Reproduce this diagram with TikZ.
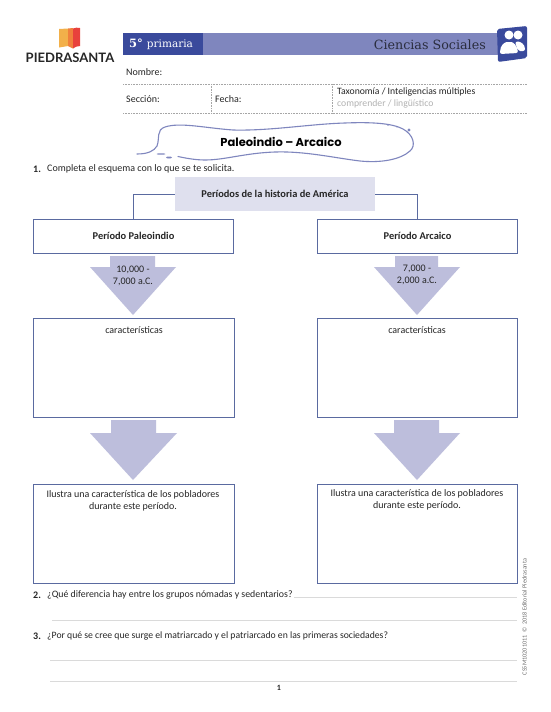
\documentclass[tikz,border=0pt]{standalone}
\usepackage{fontspec}
\setmainfont{Carlito}
\newfontfamily\slabfont{DejaVu Serif}
\newfontfamily\popfont{Poppins}
\newfontfamily\latofont{Lato}
\definecolor{navy}{HTML}{3A4A9C}
\definecolor{band}{HTML}{7F86BE}
\definecolor{boxline}{HTML}{5A6AA0}
\definecolor{headfill}{HTML}{DFE0EE}
\definecolor{arrowfill}{HTML}{BDBEDC}
\definecolor{ruleg}{HTML}{DADADA}
\definecolor{txt}{HTML}{262626}
\definecolor{bookA}{HTML}{F2B04A}
\definecolor{bookB}{HTML}{F0803C}
\definecolor{bookC}{HTML}{E8413C}
\tikzset{
  x=1pt,y=-1pt,
  txtn/.style={inner sep=0pt,text=txt,font=\fontsize{10}{12.5}\selectfont},
  lefttxt/.style={txtn,anchor=west},
  framebox/.style={draw=boxline,line width=1pt,fill=white,anchor=north west,inner sep=0pt,minimum height=#1},
  framebox/.default=34pt,
  boldlabel/.style={txtn,font=\fontsize{10.4}{12.5}\selectfont\bfseries},
  conn/.style={draw=boxline,line width=1pt},
  dots/.style={draw=gray!70,line width=0.6pt,densely dotted},
  rulel/.style={draw=ruleg,line width=0.9pt},
  arrowshape/.style={fill=arrowfill,draw=none},
  ribbon/.style={draw=band,line width=1.1pt,line cap=round}
}
\begin{document}
\begin{tikzpicture}
\useasboundingbox (0,0) rectangle (550,712);
\fill[white] (0,0) rectangle (550,712);

% logo
\fill[bookA] (59,29) -- (68,28.5) -- (68,46) -- (59,47.5) -- cycle;
\fill[bookB] (68,28.5) -- (73,28) -- (73,48.5) -- (68,46) -- cycle;
\fill[bookC] (73,28.5) .. controls (75,27.5) and (78,27.5) .. (80,28) -- (80,46) .. controls (77,46) and (75,47) .. (73,48.5) -- cycle;
\node[inner sep=0pt,text=txt] (logo) at (70,58) {\latofont\bfseries\fontsize{13}{14}\selectfont PIEDRASANTA};

% band
\fill[band] (203,33) rectangle (505,55);
\fill[navy] (123,33) rectangle (203,55);
\node[inner sep=0pt,anchor=west,text=white] (grade) at (129,44) {\slabfont\fontsize{11.5}{12}\selectfont\bfseries 5° \mdseries\fontsize{10.5}{12}\selectfont primaria};
\node[inner sep=0pt,anchor=east,text=txt!80!navy] (subject) at (486,44.5) {\slabfont\fontsize{12.7}{14}\selectfont Ciencias Sociales};

% icon
\fill[navy,rounded corners=2pt] (497,29) -- (527,26) -- (527,58) -- (498,62) -- cycle;
\fill[white] (509,35) circle (4.5);
\fill[white] (518,35) circle (4.5);
\fill[white,rounded corners=2pt] (500,54) .. controls (500,45) and (505,42) .. (509,42) .. controls (513,42) and (517,45) .. (518,53) -- cycle;
\fill[white,rounded corners=2pt] (515,42) .. controls (520,41) and (525,44) .. (525,51) -- (518,51) -- cycle;

% form
\node[lefttxt] (nombre) at (126,72) {Nombre:};
\draw[dots] (123,84) -- (527,84);
\draw[dots] (123,113) -- (527,113);
\draw[dots] (211,84) -- (211,113);
\draw[dots] (332,84) -- (332,113);
\node[lefttxt] (seccion) at (126,99.5) {Sección:};
\node[lefttxt] (fecha) at (215,99.5) {Fecha:};
\node[lefttxt,font=\fontsize{9.7}{12}\selectfont] (tax) at (337,92) {Taxonomía / Inteligencias múltiples};
\node[lefttxt,text=gray!60,font=\fontsize{9.7}{12}\selectfont] (comp) at (337,104) {comprender / lingüístico};

% title ribbon
\path[ribbon] (137,154) .. controls (148,154) and (154,151) .. (157,146)
  .. controls (160,138) and (156,130) .. (165,127)
  .. controls (180,122) and (205,128) .. (233,130)
  .. controls (270,131) and (310,124) .. (345,123)
  .. controls (370,122) and (392,123) .. (403,129)
  .. controls (414,135) and (416,146) .. (410,151)
  .. controls (400,160) and (380,163) .. (360,161)
  .. controls (335,158) and (305,151) .. (275,152)
  .. controls (245,153) and (225,160) .. (205,160)
  .. controls (195,160) and (185,158) .. (178,156.5);
\fill[band] (169,157.5) ellipse (3 and 1);
\fill[band] (161,154) ellipse (4.5 and .7);
\fill[band] (409,130) circle (1.6);
\fill[band] (388,125) circle (.8);
\fill[band] (397,127) circle (.6);
\node[inner sep=0pt,text=black] (title) at (281,142) {\popfont\fontsize{11.5}{13}\selectfont\bfseries Paleoindio – Arcaico};

% question 1
\node[lefttxt,font=\fontsize{10}{12}\selectfont\bfseries] (q1n) at (33,169) {1.};
\node[lefttxt] (q1) at (47,169) {Completa el esquema con lo que se te solicita.};

% scheme head
\node[fill=headfill,minimum width=200pt,minimum height=34pt,inner sep=0pt,boldlabel] (hdr) at (275,194) {Períodos de la historia de América};
\node[framebox,minimum width=200pt] (lp) at (33,218.5) {};
\node[boldlabel] at (lp.center) {Período Paleoindio};
\node[framebox,minimum width=200pt] (rp) at (317,218.5) {};
\node[boldlabel] at (rp.center) {Período Arcaico};
\draw[conn] (hdr.west) -| (lp.north);
\draw[conn] (hdr.east) -| (rp.north);

% small arrows
\fill[arrowshape] (110,256) -- (155,256) -- (155,267) -- (176,267) -- (133,315) -- (90,267) -- (110,267) -- cycle;
\fill[arrowshape] (395,256) -- (438,256) -- (438,267) -- (460,267) -- (417,315) -- (374,267) -- (395,267) -- cycle;
\node[txtn,align=center] (ld) at (133,276) {10,000 -\\7,000 a.C.};
\node[txtn,align=center] (rd) at (417,275) {7,000 -\\2,000 a.C.};

% characteristic boxes
\node[framebox=99pt,minimum width=201pt] (lc) at (33,318) {};
\node[framebox=99pt,minimum width=200pt] (rc) at (317,318) {};
\node[txtn] at (134,330) {características};
\node[txtn] at (417,330) {características};

% big arrows
\fill[arrowshape] (111,420) -- (156,420) -- (156,433) -- (177,433) -- (133,480) -- (90,433) -- (111,433) -- cycle;
\fill[arrowshape] (394,420) -- (439,420) -- (439,433) -- (460,433) -- (417,480) -- (374,433) -- (394,433) -- cycle;

% illustrate boxes
\node[framebox=99pt,minimum width=201pt] (li) at (33,484) {};
\node[framebox=99pt,minimum width=200pt] (ri) at (317,484) {};
\node[txtn,align=center] at (133,501) {Ilustra una característica de los pobladores\\durante este período.};
\node[txtn,align=center] at (417,500) {Ilustra una característica de los pobladores\\durante este período.};

% questions
\node[lefttxt,font=\fontsize{10}{12}\selectfont\bfseries] (q2n) at (33,595) {2.};
\node[lefttxt,font=\fontsize{9.85}{12}\selectfont] (q2) at (47,595) {¿Qué diferencia hay entre los grupos nómadas y sedentarios?};
\draw[rulel] (294,597.5) -- (517,597.5);
\draw[rulel] (52,620.5) -- (517,620.5);
\node[lefttxt,font=\fontsize{10}{12}\selectfont\bfseries] (q3n) at (33,636) {3.};
\node[lefttxt,font=\fontsize{9.7}{12}\selectfont] (q3) at (47,636) {¿Por qué se cree que surge el matriarcado y el patriarcado en las primeras sociedades?};
\draw[rulel] (50,660) -- (517,660);
\draw[rulel] (50,681) -- (517,681);
\node[txtn,font=\fontsize{8}{10}\selectfont\bfseries] (pg) at (279,687.5) {1};
\node[inner sep=0pt,rotate=90,text=gray!85!black,font=\fontsize{6.2}{7}\selectfont] (code) at (524.5,617) {CS5M10201011\ \ ©\ \ 2018 Editorial Piedrasanta};
\end{tikzpicture}
\end{document}
